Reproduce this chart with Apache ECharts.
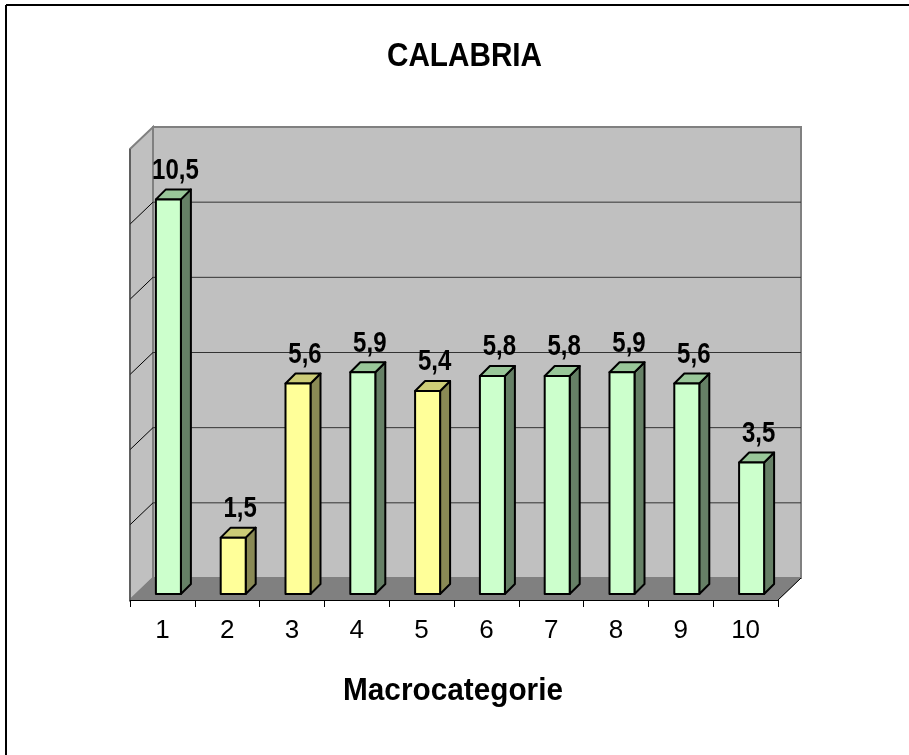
<!DOCTYPE html>
<html>
<head>
<meta charset="utf-8">
<script src="https://cdn.jsdelivr.net/npm/echarts@6/dist/echarts.min.js"></script>
<style>html,body{margin:0;padding:0;background:#fff;}#c{width:909px;height:755px;}</style>
</head>
<body>
<div id="c"></div>
<script>
const categories = ['1','2','3','4','5','6','7','8','9','10'];
const values = [10.5, 1.5, 5.6, 5.9, 5.4, 5.8, 5.8, 5.9, 5.6, 3.5];
const highlighted = [false, true, true, false, true, false, false, false, false, false];
const yTicks = [0, 2, 4, 6, 8, 10, 12];
const titleText = 'CALABRIA';
const xAxisTitle = 'Macrocategorie';

const DX = 23, DY = -22;      // wall depth
const BDX = 6, BDY = -6;      // bar front offset from front plane
const BW = 25, BD = 10;       // bar width and depth
const mainFont = '"Liberation Sans", Arial, sans-serif';

const chart = echarts.init(document.getElementById('c'), null, {renderer: 'canvas'});

function wallsRender(params, api) {
  const p0 = api.coord([0, 0]);
  const band = api.size([1, 0])[0];
  const xl = p0[0] - band / 2;
  const xr = xl + band * categories.length;
  const y0 = p0[1];
  const yTop = api.coord([0, yTicks[yTicks.length - 1]])[1];
  const children = [];
  children.push({type: 'polygon', shape: {points: [[xl+DX, yTop+DY],[xr+DX, yTop+DY],[xr+DX, y0+DY],[xl+DX, y0+DY]]},
    style: {fill: '#c0c0c0', stroke: '#808080', lineWidth: 2}});
  children.push({type: 'polygon', shape: {points: [[xl, yTop],[xl+DX, yTop+DY],[xl+DX, y0+DY],[xl, y0]]},
    style: {fill: '#c0c0c0', stroke: '#808080', lineWidth: 2}});
  children.push({type: 'polygon', shape: {points: [[xl, y0],[xr, y0],[xr+DX, y0+DY],[xl+DX, y0+DY]]},
    style: {fill: '#808080', stroke: '#808080', lineWidth: 1}});
  yTicks.forEach(function (v) {
    if (v === 0 || v === yTicks[yTicks.length - 1]) return;
    const y = api.coord([0, v])[1];
    children.push({type: 'line', shape: {x1: xl+DX, y1: y+DY, x2: xr+DX, y2: y+DY}, style: {stroke: '#333333', lineWidth: 1}});
    children.push({type: 'line', shape: {x1: xl, y1: y, x2: xl+DX, y2: y+DY}, style: {stroke: '#000000', lineWidth: 1}});
  });
  children.push({type: 'line', shape: {x1: xl, y1: yTop, x2: xl, y2: y0}, style: {stroke: '#404040', lineWidth: 1}});
  children.push({type: 'line', shape: {x1: xr, y1: y0, x2: xr+DX, y2: y0+DY}, style: {stroke: '#000000', lineWidth: 1}});
  return {type: 'group', children: children};
}

function barsRender(params, api) {
  const idx = api.value(0);
  const v = api.value(1);
  const top = api.coord([idx, v]);
  const base = api.coord([idx, 0]);
  const cx = top[0] + BDX;
  const x1 = cx - BW / 2, x2 = cx + BW / 2;
  const yt = top[1] + BDY, yb = base[1] + BDY;
  const hl = highlighted[idx];
  const front = hl ? '#ffff99' : '#ccffcc';
  const side = hl ? '#8a8a55' : '#668066';
  const topc = hl ? '#cccc77' : '#99c799';
  const st = {stroke: '#000000', lineWidth: 2, lineJoin: 'round'};
  return {type: 'group', children: [
    {type: 'polygon', shape: {points: [[x2, yt],[x2+BD, yt-BD],[x2+BD, yb-BD],[x2, yb]]}, style: Object.assign({fill: side}, st)},
    {type: 'polygon', shape: {points: [[x1, yt],[x1+BD, yt-BD],[x2+BD, yt-BD],[x2, yt]]}, style: Object.assign({fill: topc}, st)},
    {type: 'rect', shape: {x: x1, y: yt, width: BW, height: yb - yt}, style: Object.assign({fill: front}, st)},
    {type: 'text', x: cx + 7, y: yt - 29, scaleX: 0.8, style: {text: String(v).replace('.', ','), fill: '#000', align: 'center', verticalAlign: 'middle',
      font: 'bold 30px ' + mainFont}}
  ]};
}

const option = {
  backgroundColor: '#ffffff',
  animation: false,
  grid: {left: 130, top: 149, width: 648, height: 451},
  xAxis: {type: 'category', data: categories, boundaryGap: true,
    axisLine: {show: true, lineStyle: {color: '#000', width: 1}},
    axisTick: {show: true, alignWithLabel: false, length: 7, lineStyle: {color: '#000'}},
    axisLabel: {fontSize: 26, color: '#000', fontFamily: mainFont, margin: 18},
    z: 5},
  yAxis: {type: 'value', min: 0, max: 12, interval: 2, show: false},
  graphic: [
    {type: 'line', shape: {x1: 6, y1: 5, x2: 909, y2: 5}, style: {stroke: '#000', lineWidth: 2}},
    {type: 'line', shape: {x1: 6, y1: 5, x2: 6, y2: 755}, style: {stroke: '#000', lineWidth: 2}},
    {type: 'text', x: 464.5, y: 57, scaleX: 0.9,
      style: {text: titleText, font: 'bold 33px ' + mainFont, fill: '#000', align: 'center', verticalAlign: 'middle'}},
    {type: 'text', x: 453, y: 691, scaleX: 0.93,
      style: {text: xAxisTitle, font: 'bold 32px ' + mainFont, fill: '#000', align: 'center', verticalAlign: 'middle'}}
  ],
  series: [
    {type: 'custom', z: 1, renderItem: wallsRender, data: [[0, 0]], silent: true},
    {type: 'custom', z: 3, renderItem: barsRender, data: values.map(function (v, i) { return [i, v]; }), silent: true}
  ]
};
chart.setOption(option);
</script>
</body>
</html>
